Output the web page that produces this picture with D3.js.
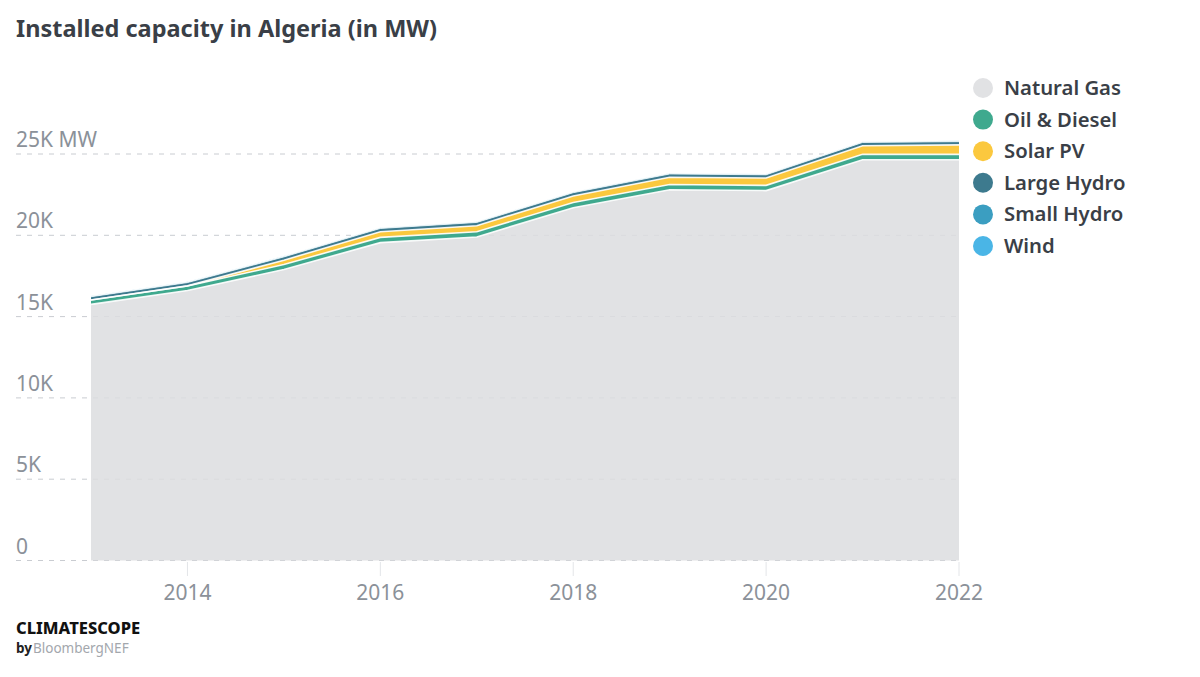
<!DOCTYPE html>
<html>
<head>
<meta charset="utf-8">
<script src="https://cdn.jsdelivr.net/npm/d3@7"></script>
<style>
  body { margin: 0; background: #fff; }
  svg { display: block; font-family: "Noto Sans", "Open Sans", sans-serif; }
</style>
</head>
<body>
<svg width="1200" height="677"></svg>
<script>
// values (MW)
var years = [2013, 2014, 2015, 2016, 2017, 2018, 2019, 2020, 2021, 2022];
var naturalGas = [15750, 16600, 17900, 19550, 19900, 21700, 22800, 22750, 24650, 24650];
var oilDiesel = [270, 280, 300, 320, 320, 320, 320, 320, 330, 330];
var solarPV = [0, 10, 270, 350, 370, 400, 450, 450, 530, 580];
var largeHydro = [200, 200, 200, 200, 200, 200, 200, 200, 200, 200];
var smallHydro = [40, 40, 40, 40, 40, 40, 40, 40, 40, 40];
var wind = [0, 10, 10, 10, 10, 10, 10, 10, 10, 10];

var seriesNames = ["Natural Gas", "Oil & Diesel", "Solar PV", "Large Hydro", "Small Hydro", "Wind"];
var seriesValues = [naturalGas, oilDiesel, solarPV, largeHydro, smallHydro, wind];
var seriesColors = ["#dcdddf", "#3fa98e", "#fbc83e", "#3d7a8e", "#3b9ec1", "#4ab5e6"];

var yTicks = [0, 5000, 10000, 15000, 20000, 25000];
var yTickLabels = ["0", "5K", "10K", "15K", "20K", "25K MW"];
var xTicks = [2014, 2016, 2018, 2020, 2022];

var svg = d3.select("svg");

// build rows for the stack
var rows = years.map(function(yr, i) {
    var r = { year: yr };
    seriesNames.forEach(function(n, k) { r[n] = seriesValues[k][i]; });
    return r;
});

var x = d3.scaleLinear().domain([2013, 2022]).range([91, 959]);
var y = d3.scaleLinear().domain([0, 25000]).range([560.5, 154]);

// title
svg.append("text")
    .attr("x", 16)
    .attr("y", 37)
    .attr("font-size", "23.5px")
    .attr("font-weight", 700)
    .attr("fill", "#3a3f47")
    .text("Installed capacity in Algeria (in MW)");

// gridlines (under the areas)
svg.append("g")
    .selectAll("line")
    .data(yTicks)
    .enter()
    .append("line")
    .attr("x1", 16)
    .attr("x2", 960)
    .attr("y1", function(d) { return y(d); })
    .attr("y2", function(d) { return y(d); })
    .attr("stroke", "#c9ccd1")
    .attr("stroke-width", 1)
    .style("stroke-dasharray", "5,6");

// y labels
svg.append("g")
    .selectAll("text")
    .data(yTicks)
    .enter()
    .append("text")
    .attr("x", 16)
    .attr("y", function(d) { return y(d) - 7; })
    .attr("font-size", "21px")
    .attr("fill", "#8b9199")
    .text(function(d, i) { return yTickLabels[i]; });

// stacked areas
var stack = d3.stack().keys(seriesNames);
var layers = stack(rows);

var area = d3.area()
    .x(function(d) { return x(d.data.year); })
    .y0(function(d) { return y(d[0]); })
    .y1(function(d) { return y(d[1]); });

var topLine = d3.line()
    .x(function(d) { return x(d.data.year); })
    .y(function(d) { return y(d[1]); });

svg.append("g")
    .selectAll("path")
    .data(layers)
    .enter()
    .append("path")
    .attr("d", area)
    .attr("fill", function(d, i) { return seriesColors[i]; })
    .attr("fill-opacity", function(d, i) { return i === 0 ? 0.85 : 1; });

// white separators along the top of each layer
svg.append("g")
    .selectAll("path")
    .data(layers)
    .enter()
    .append("path")
    .attr("d", topLine)
    .attr("fill", "none")
    .attr("stroke", "#fff")
    .attr("stroke-width", function(d, i) { return i < 3 ? 1.6 : 0.8; })
    .attr("stroke-opacity", 0.9);

// x axis ticks + labels
var xg = svg.append("g");
xg.selectAll("line")
    .data(xTicks)
    .enter()
    .append("line")
    .attr("x1", function(d) { return x(d); })
    .attr("x2", function(d) { return x(d); })
    .attr("y1", 562)
    .attr("y2", 576)
    .attr("stroke", "#e3e5e8")
    .attr("stroke-width", 1);

xg.selectAll("text")
    .data(xTicks)
    .enter()
    .append("text")
    .attr("x", function(d) { return x(d); })
    .attr("y", 600)
    .attr("text-anchor", "middle")
    .attr("font-size", "21px")
    .attr("fill", "#8b9199")
    .text(function(d) { return d; });

// legend
var legend = svg.append("g")
    .selectAll("g")
    .data(seriesNames)
    .enter()
    .append("g")
    .attr("transform", function(d, i) { return "translate(983," + (88 + i * 31.6) + ")"; });

legend.append("circle")
    .attr("r", 10)
    .attr("fill", function(d, i) { return i === 0 ? "#e1e2e4" : seriesColors[i]; });

legend.append("text")
    .attr("x", 21)
    .attr("y", 7)
    .attr("font-size", "20.3px")
    .attr("font-weight", 600)
    .attr("fill", "#3a3f47")
    .text(function(d) { return d; });

// footer logo
svg.append("text")
    .attr("x", 16)
    .attr("y", 634)
    .attr("font-size", "16.5px")
    .attr("font-weight", 800)
    .attr("fill", "#111")
    .text("CLIMATESCOPE");

var by = svg.append("text")
    .attr("x", 16)
    .attr("y", 653)
    .attr("font-size", "13.5px");
by.append("tspan")
    .attr("font-weight", 700)
    .attr("fill", "#222")
    .text("by");
by.append("tspan")
    .attr("fill", "#a3a7ad")
    .attr("dx", 1)
    .text("BloombergNEF");
</script>
</body>
</html>
